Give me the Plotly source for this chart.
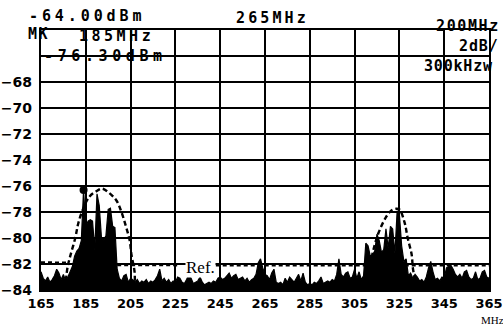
import plotly.graph_objects as go

# ---------------- data ----------------
freq_mhz = list(range(165, 366))
level_dbm = [
    -82.6, -83.1, -83.3, -83.0, -83.4, -83.2, -82.9, -82.4, -82.7, -83.2,   # 165-174
    -82.8, -83.3, -83.0, -82.6, -82.2, -81.4, -81.0, -80.8, -80.2, -76.3,   # 175-184
    -79.2, -78.7, -78.6, -78.7, -80.9, -76.6, -77.5, -80.0, -80.2, -79.8,   # 185-194
    -77.8, -77.7, -79.1, -79.2, -82.4, -83.1, -83.3, -82.9, -82.8, -83.4,   # 195-204
    -83.1, -83.2, -83.4, -83.2, -83.5, -83.3, -83.4, -83.2, -83.5, -83.3,   # 205-214
    -83.4, -83.2, -82.9, -82.4, -83.3, -83.1, -83.4, -83.2, -83.5, -83.3,   # 215-224
    -83.4, -83.0, -83.1, -83.4, -83.5, -83.2, -82.8, -83.1, -83.5, -83.4,   # 225-234
    -83.3, -83.0, -83.4, -83.6, -83.5, -83.4, -83.5, -83.3, -83.4, -83.1,   # 235-244
    -83.0, -83.2, -83.1, -82.9, -82.7, -83.1, -82.9, -82.8, -83.2, -83.1,   # 245-254
    -83.0, -83.3, -83.1, -83.4, -83.2, -83.1, -82.8, -81.9, -81.6, -82.3,   # 255-264
    -82.8, -82.9, -83.2, -82.7, -82.4, -83.4, -83.5, -83.4, -83.6, -83.1,   # 265-274
    -83.4, -83.0, -83.2, -83.4, -83.1, -82.8, -83.3, -82.7, -83.4, -83.6,   # 275-284
    -83.5, -83.6, -83.4, -83.5, -83.3, -83.0, -83.5, -83.4, -83.3, -83.4,   # 285-294
    -83.2, -83.3, -82.8, -81.6, -82.8, -83.0, -82.7, -82.6, -83.1, -83.0,   # 295-304
    -82.4, -83.1, -82.6, -83.2, -82.9, -80.4, -80.6, -81.4, -81.3, -81.0,   # 305-314
    -79.7, -80.2, -81.1, -80.9, -79.3, -80.8, -79.1, -79.3, -81.2, -77.9,   # 315-324
    -78.2, -80.6, -81.8, -81.6, -82.9, -82.7, -83.1, -82.8, -83.0, -83.3,   # 325-334
    -83.2, -83.4, -83.0, -82.3, -81.8, -82.6, -83.2, -83.1, -83.3, -83.0,   # 335-344
    -83.1, -82.3, -82.2, -82.1, -82.4, -82.8, -83.0, -82.8, -83.1, -82.6,   # 345-354
    -82.5, -83.0, -83.2, -83.1, -82.6, -83.2, -83.1, -82.6, -82.5, -83.0,   # 355-364
    -83.1,                                                                  # 365
]

# dashed envelopes (hand-drawn on the original)
env1_f = [176.1, 176.9, 178.2, 180.3, 181.6, 183.7, 186.7, 189.7, 192.2, 195.2,
          198.6, 200.7, 202.9, 204.6, 205.4, 206.7, 207.1, 208.0]
env1_v = [-83.3, -82.2, -81.3, -80.0, -78.9, -77.8, -76.8, -76.4, -76.2, -76.5,
          -77.1, -77.9, -79.1, -80.2, -81.3, -82.5, -83.5, -84.0]
env2_f = [310.0, 312.0, 313.4, 315.7, 319.0, 321.3, 323.5, 325.0, 327.3, 328.7,
          330.5, 331.0, 332.0, 332.5]
env2_v = [-83.3, -82.0, -80.9, -79.6, -78.4, -77.9, -77.75, -77.8, -78.8, -80.0,
          -81.3, -82.3, -83.3, -84.0]

# reference line (with gap for the "Ref." label)
ref_f = [165, 177, None, 199, 227, None, 243, 365]
ref_v = [-81.87, -81.9, None, -82.08, -82.1, None, -82.1, -82.1]

marker_f = [184]
marker_v = [-76.3]

x_ticks = [165, 185, 205, 225, 245, 265, 285, 305, 325, 345, 365]
y_ticks = [-64, -66, -68, -70, -72, -74, -76, -78, -80, -82, -84]
y_ticktext = ["", ""] + ["\u2212" + str(abs(v)) for v in y_ticks[2:]]

x_range = [165, 365]
y_range = [-84, -64]

# ---------------- layout geometry ----------------
W, H = 503, 327
L, R, T, B = 41, 14, 30, 37
PW, PH = W - L - R, H - T - B


def px(x):
    return (x - L) / PW


def py(y):
    return 1 - (y - T) / PH


fig = go.Figure()

# baseline for the filled spectrum
fig.add_trace(go.Scatter(x=freq_mhz, y=[y_range[0]] * len(freq_mhz), mode="lines",
                         line=dict(width=0, color="black"), hoverinfo="skip"))
fig.add_trace(go.Scatter(x=freq_mhz, y=level_dbm, mode="lines", fill="tonexty",
                         fillcolor="black", line=dict(color="black", width=1.2)))
fig.add_trace(go.Scatter(x=ref_f, y=ref_v, mode="lines",
                         line=dict(color="black", width=2.2, dash="4px,3px")))
fig.add_trace(go.Scatter(x=env1_f, y=env1_v, mode="lines", line_shape="spline",
                         line=dict(color="black", width=2.4, dash="5px,3px")))
fig.add_trace(go.Scatter(x=env2_f, y=env2_v, mode="lines", line_shape="spline",
                         line=dict(color="black", width=2.4, dash="5px,3px")))
fig.add_trace(go.Scatter(x=marker_f, y=marker_v, mode="markers",
                         marker=dict(color="black", size=8)))

mono = "DejaVu Sans Mono"


def hdr(text, x0, yc, spacing, size=15):
    fig.add_annotation(
        text=f'<b><span style="letter-spacing:{spacing}px">{text}</span></b>',
        xref="paper", yref="paper", x=px(x0), y=py(yc),
        xanchor="left", yanchor="middle", showarrow=False,
        font=dict(family=mono, size=size, color="black", weight="bold"),
        bgcolor="rgba(0,0,0,0)")


hdr("-64.00dBm", 27, 16, 3.9)
hdr("265MHz", 234, 18, 3.1)
hdr("200MHz", 434, 26, 1.6)
hdr("MK", 26, 34, 1.5)
hdr("185MHz", 77, 36, 3.5)
hdr("-76.30dBm", 42, 56, 4.6)
hdr("2dB/", 457, 46, 0.9)
hdr("300kHzw", 422, 66, 0.8)

fig.add_annotation(text="Ref.", x=236.3, y=-82.25, xref="x", yref="y",
                   showarrow=False, xanchor="center", yanchor="middle",
                   font=dict(family="Liberation Serif", size=17, color="black"),
                   bgcolor="white", borderpad=0)
fig.add_annotation(text="MHz", xref="paper", yref="paper", x=px(492), y=py(319.5),
                   showarrow=False, xanchor="center", yanchor="middle",
                   font=dict(family="Liberation Serif", size=11, color="black"))

fig.update_layout(
    width=W, height=H, margin=dict(l=L, r=R, t=T, b=B, autoexpand=False),
    paper_bgcolor="white", plot_bgcolor="white", showlegend=False,
    xaxis=dict(range=x_range, tickvals=x_ticks, ticktext=[str(v) for v in x_ticks],
               showgrid=True, gridcolor="black", gridwidth=2, zeroline=False,
               showline=True, linecolor="black", linewidth=2.4, mirror=True,
               ticks="", ticklabelstandoff=0, automargin=False,
               tickfont=dict(family="DejaVu Sans", size=13, color="black", weight="bold")),
    yaxis=dict(range=y_range, tickvals=y_ticks, ticktext=y_ticktext,
               showgrid=True, gridcolor="black", gridwidth=2, zeroline=False,
               showline=True, linecolor="black", linewidth=2.4, mirror=True,
               ticks="", ticklabelstandoff=4, automargin=False,
               tickfont=dict(family="DejaVu Sans", size=14, color="black", weight="bold")),
)

fig.write_html("out.html", config={"displayModeBar": False},
               post_script="document.body.style.margin='0';document.body.style.overflow='hidden';")
